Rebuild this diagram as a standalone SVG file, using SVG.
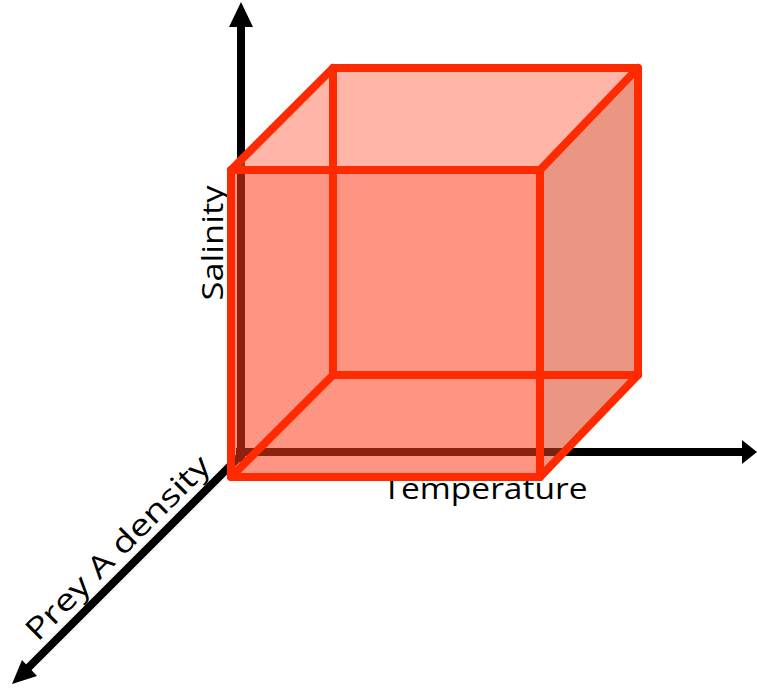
<svg xmlns="http://www.w3.org/2000/svg" width="757" height="688" viewBox="0 0 757 688">
<defs>
<style>
.axis{stroke:#000;stroke-width:8;fill:none}
.head{fill:#000}
.edge{stroke:#ff2a00;stroke-width:8;fill:none;stroke-linejoin:round;stroke-linecap:round}
.lbl{font-family:"Open Sans",Lato,sans-serif;font-size:30px;fill:#000}
</style>
</defs>
<g id="axes">
<line class="axis" x1="241" y1="462" x2="241" y2="24"/>
<polygon class="head" points="241,2 229,27 253,27"/>
<line class="axis" x1="236" y1="452" x2="745" y2="452"/>
<polygon class="head" points="757,452 742,440 742,464"/>
<line class="axis" x1="241" y1="455" x2="28" y2="668"/>
<polygon class="head" points="12,684 22,660 37,676"/>
</g>
<g id="labels">
<text class="lbl" transform="translate(223,243) rotate(-90)" text-anchor="middle" textLength="115" lengthAdjust="spacingAndGlyphs">Salinity</text>
<text class="lbl" x="485" y="499" text-anchor="middle" textLength="205" lengthAdjust="spacingAndGlyphs">Temperature</text>
<text class="lbl" transform="translate(125,555) rotate(-45)" text-anchor="middle" textLength="247" lengthAdjust="spacingAndGlyphs">Prey A density</text>
</g>
<g id="cube">
<polygon points="231,170 333,68 638,68 540,170" fill="#ff7a62" fill-opacity="0.55"/>
<polygon points="540,170 638,68 638,375 540,477" fill="#d8401e" fill-opacity="0.55"/>
<rect x="231" y="170" width="309" height="307" fill="#ff3c1e" fill-opacity="0.55"/>
<path class="edge" d="M333,68 H638 V375 H333 Z"/>
<path class="edge" d="M231,170 H540 V477 H231 Z"/>
<path class="edge" d="M231,170 L333,68 M540,170 L638,68 M540,477 L638,375 M231,477 L333,375"/>
</g>
</svg>
